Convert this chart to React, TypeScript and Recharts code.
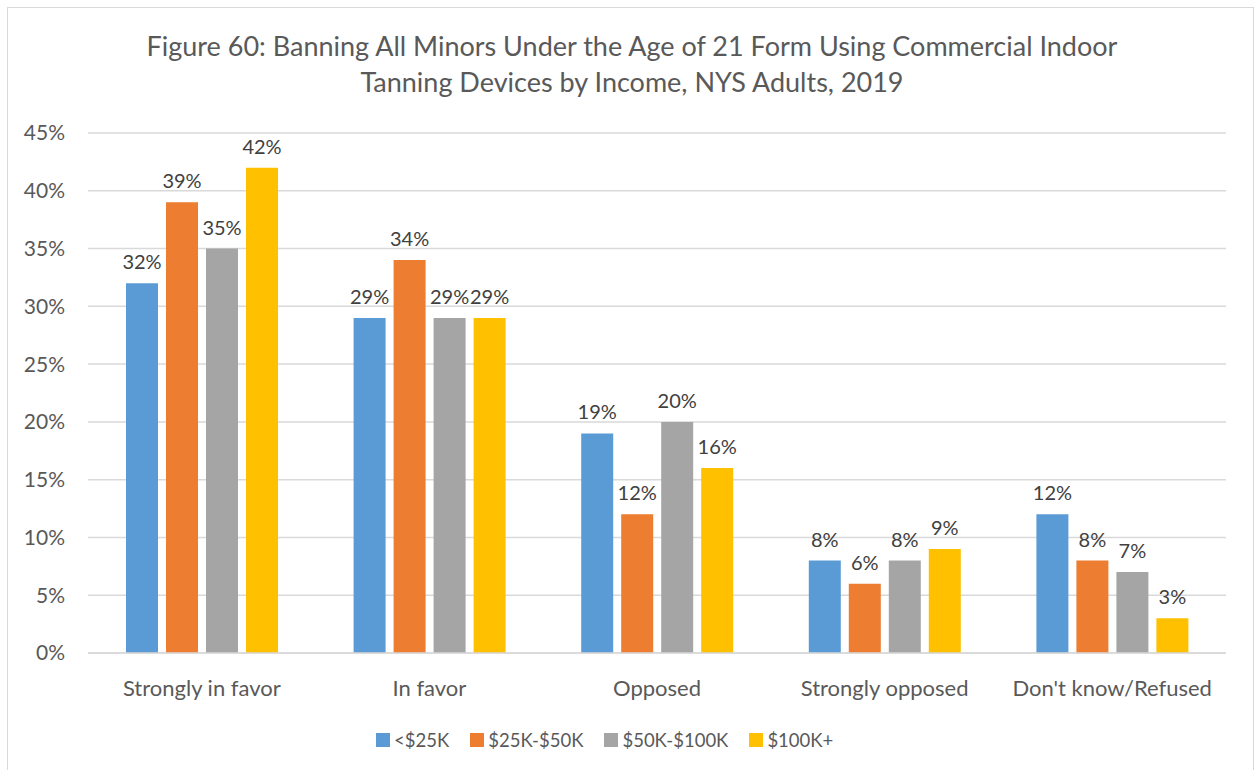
import React from 'react';
import { BarChart, Bar, XAxis, YAxis, CartesianGrid, LabelList } from 'recharts';

const categories = ['Strongly in favor', 'In favor', 'Opposed', 'Strongly opposed', "Don't know/Refused"];
const under25k = [32, 29, 19, 8, 12];
const from25to50k = [39, 34, 12, 6, 8];
const from50to100k = [35, 29, 20, 8, 7];
const over100k = [42, 29, 16, 9, 3];
const yTicks = [0, 5, 10, 15, 20, 25, 30, 35, 40, 45];

const series = [
  { key: 'a', name: '<$25K', color: '#5B9BD5', values: under25k },
  { key: 'b', name: '$25K-$50K', color: '#ED7D31', values: from25to50k },
  { key: 'c', name: '$50K-$100K', color: '#A5A5A5', values: from50to100k },
  { key: 'd', name: '$100K+', color: '#FFC000', values: over100k },
];

const data = categories.map((label, i) => {
  const row: Record<string, string | number> = { label };
  series.forEach((s) => {
    row[s.key] = s.values[i];
  });
  return row;
});

const FONT = 'Lato, "Open Sans", sans-serif';
const TEXT = '#595959';

export default function App() {
  return (
    <div style={{ position: 'relative', width: 1256, height: 770, background: '#fff', overflow: 'hidden' }}>
      <style>{'body{margin:0}'}</style>
      <div
        style={{
          position: 'absolute',
          left: 7,
          top: 7,
          width: 1247,
          height: 775,
          border: '1.5px solid #d9d9d9',
          boxSizing: 'border-box',
        }}
      />
      <div
        style={{
          position: 'absolute',
          left: 0,
          top: 28,
          width: 1264,
          textAlign: 'center',
          fontFamily: FONT,
          fontSize: 27,
          lineHeight: '36px',
          color: TEXT,
        }}
      >
        Figure 60: Banning All Minors Under the Age of 21 Form Using Commercial Indoor
        <br />
        Tanning Devices by Income, NYS Adults, 2019
      </div>
      <BarChart
        width={1256}
        height={770}
        data={data}
        margin={{ top: 133, right: 30, left: 8, bottom: 87 }}
        barSize={32}
        barGap={8}
        style={{ position: 'absolute', left: 0, top: 0 }}
      >
        <CartesianGrid vertical={false} stroke="#d9d9d9" strokeWidth={1.5} />
        <XAxis
          dataKey="label"
          height={30}
          axisLine={{ stroke: '#d9d9d9', strokeWidth: 1.5 }}
          tickLine={false}
          tickSize={0}
          tickMargin={27}
          interval={0}
          tick={{ fill: TEXT, fontSize: 22, fontFamily: FONT }}
        />
        <YAxis
          width={80}
          domain={[0, 45]}
          ticks={yTicks}
          axisLine={false}
          tickLine={false}
          tickSize={0}
          tickMargin={23}
          tickFormatter={(v) => `${v}%`}
          tick={{ fill: TEXT, fontSize: 21, fontFamily: FONT }}
        />
        {series.map((s) => (
          <Bar key={s.key} dataKey={s.key} name={s.name} fill={s.color} isAnimationActive={false}>
            <LabelList
              dataKey={s.key}
              position="top"
              offset={14}
              formatter={(v: number) => `${v}%`}
              style={{ fill: '#404040', fontSize: 20, fontFamily: FONT }}
            />
          </Bar>
        ))}
      </BarChart>
      <div
        style={{
          position: 'absolute',
          left: 376,
          top: 727,
          display: 'flex',
          fontFamily: FONT,
          fontSize: 18.5,
          lineHeight: '26px',
          color: TEXT,
        }}
      >
        {series.map((s) => (
          <div key={s.key} style={{ display: 'flex', alignItems: 'center', marginRight: 21 }}>
            <span style={{ width: 14, height: 14, background: s.color, display: 'inline-block', marginRight: 4 }} />
            {s.name}
          </div>
        ))}
      </div>
    </div>
  );
}
